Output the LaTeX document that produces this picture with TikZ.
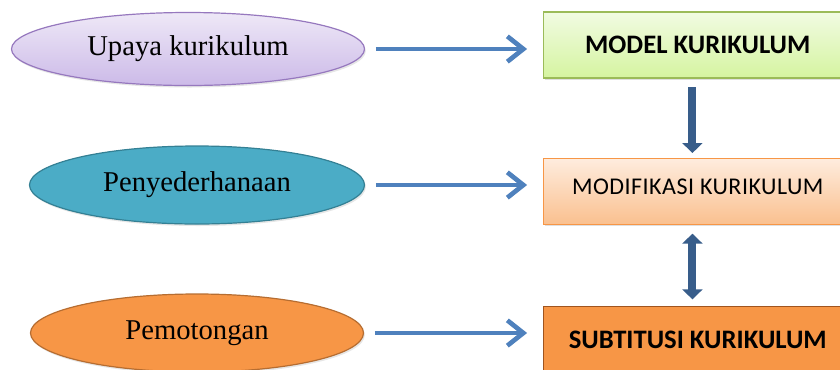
\documentclass[tikz,border=0pt]{standalone}
\usepackage{fontspec}
\setmainfont{Liberation Serif}
\newfontfamily\boxfont{Carlito}
\usetikzlibrary{arrows.meta,positioning,shapes.geometric,shadows}
\definecolor{kurLavTop}{RGB}{238, 232, 247}
\definecolor{kurLavBot}{RGB}{204, 186, 232}
\definecolor{kurLavLine}{RGB}{150, 120, 190}
\definecolor{kurTeal}{RGB}{75, 172, 198}
\definecolor{kurTealLine}{RGB}{52, 128, 148}
\definecolor{kurOrange}{RGB}{247, 150, 70}
\definecolor{kurOrangeLine}{RGB}{182, 109, 49}
\definecolor{kurGreenTop}{RGB}{241, 251, 226}
\definecolor{kurGreenBot}{RGB}{213, 244, 160}
\definecolor{kurGreenLine}{RGB}{155, 187, 89}
\definecolor{kurPeachTop}{RGB}{254, 236, 222}
\definecolor{kurPeachBot}{RGB}{250, 192, 143}
\definecolor{kurBoxLine}{RGB}{160, 84, 30}
\definecolor{kurBlue}{RGB}{79, 129, 189}
\definecolor{kurDarkBlue}{RGB}{56, 93, 138}

\begin{document}
\begin{tikzpicture}[
  x=0.75pt, y=-0.75pt,
  effort/.style={
    ellipse,
    draw,
    line width=0.9pt,
    inner sep=0pt,
    font=\fontsize{21.5}{25}\selectfont,
    drop shadow={opacity=0.2,shadow xshift=1pt,shadow yshift=-1.5pt}
  },
  level/.style={
    rectangle,
    draw,
    line width=1pt,
    minimum width=231pt,
    minimum height=49.5pt,
    align=center,
    font=\boxfont\bfseries\fontsize{20}{24}\selectfont,
    drop shadow={opacity=0.25,shadow xshift=1pt,shadow yshift=-1.5pt}
  },
  flow/.style={-{Straight Barb[length=12pt,width=19pt]},line width=3.5pt,kurBlue,
    shorten <=8pt,shorten >=12pt},
  step arrow/.style={-{Triangle[width=15pt,length=7.5pt]},line width=6pt,kurDarkBlue}
]
  \useasboundingbox (0,0) rectangle (840,369);
  \clip (0,0) rectangle (840,369);
  \node[effort,minimum width=264.75pt,minimum height=54.75pt,
    top color=kurLavTop,bottom color=kurLavBot,draw=kurLavLine] (upaya) at (188,49) {Upaya kurikulum};
  \node[effort,minimum width=251.25pt,minimum height=58.5pt,
    fill=kurTeal,draw=kurTealLine] (sederhana) at (197,185) {Penyederhanaan};
  \node[effort,minimum width=249.75pt,minimum height=58.5pt,
    fill=kurOrange,draw=kurOrangeLine] (potong) at (197,333) {Pemotongan};
  \node[level,top color=kurGreenTop,bottom color=kurGreenBot,draw=kurGreenLine,
    right=133.5pt of upaya.east,anchor=west,yshift=3pt] (model) {MODEL KURIKULUM};
  \node[level,top color=kurPeachTop,bottom color=kurPeachBot,draw=kurOrange,
    font=\boxfont\fontsize{18}{21}\selectfont\addfontfeature{LetterSpace=2},
    below=59.25pt of model] (modif) {\raisebox{7pt}{MODIFIKASI KURIKULUM}};
  \node[level,fill=kurOrange,draw=kurBoxLine,below=60.75pt of modif] (subst) {SUBTITUSI KURIKULUM};
  \draw[flow] (upaya.east) -- (upaya.east -| model.west);
  \draw[flow] (sederhana.east) -- (sederhana.east -| modif.west);
  \draw[flow] (potong.east) -- (potong.east -| subst.west);
  \draw[step arrow] ([xshift=-4pt,yshift=-6.5pt]model.south) -- ([xshift=-4pt,yshift=3.5pt]modif.north);
  \draw[step arrow,{Triangle[width=15pt,length=7.5pt]}-{Triangle[width=15pt,length=7.5pt]}]
    ([xshift=-4pt,yshift=-6.5pt]modif.south) -- ([xshift=-4pt,yshift=5pt]subst.north);
\end{tikzpicture}
\end{document}
